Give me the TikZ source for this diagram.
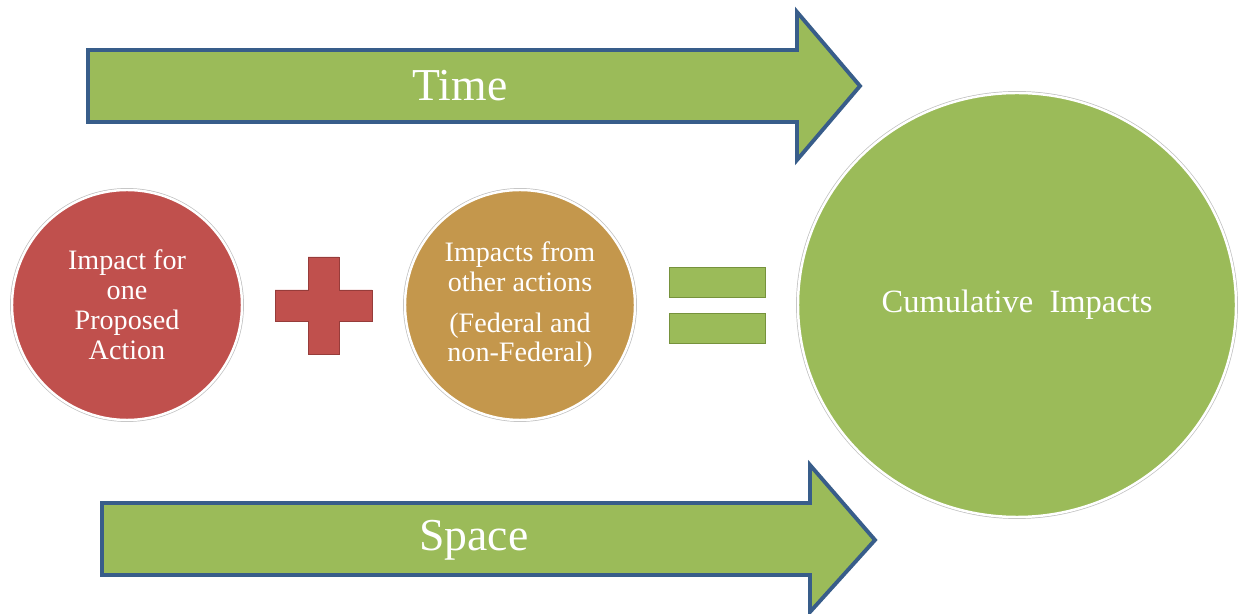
\documentclass[tikz,border=0pt]{standalone}
\usepackage{fontspec}
\setmainfont{Liberation Serif}
\usetikzlibrary{positioning, shapes.geometric}

\definecolor{leafgreen}{RGB}{155,187,89}
\definecolor{leafdark}{RGB}{118,146,60}
\definecolor{brick}{RGB}{192,80,77}
\definecolor{brickdark}{RGB}{150,60,58}
\definecolor{ochre}{RGB}{196,151,76}
\definecolor{arrowblue}{RGB}{56,93,138}

\begin{document}
\begin{tikzpicture}[
         bubble/.style={circle, minimum size=4.6cm, inner sep=0pt, align=center,
            text=white, font=\fontsize{16}{17}\selectfont, draw=white, line width=1.4pt,
            preaction={draw=black!25, line width=2.2pt}},
         bigbubble/.style={bubble, ellipse, minimum width=8.76cm, minimum height=8.48cm,
            font=\fontsize{18.5}{20}\selectfont},
         flowarrow/.style={fill=leafgreen, draw=arrowblue, line width=2.2pt, line join=miter},
         arrowlabel/.style={text=white, font=\fontsize{26}{28}\selectfont},
         plusmark/.style={fill=brick, draw=brickdark, line width=0.4pt},
         eqbar/.style={rectangle, fill=leafgreen, draw=leafdark, line width=0.4pt,
            minimum width=1.92cm, minimum height=0.6cm, inner sep=0pt}
      ]
         \useasboundingbox (0,0) rectangle (24.76,-12.28);

         % Time and space arrows
         \draw[flowarrow] (1.76,-1.0) -- (15.94,-1.0) -- (15.94,-0.24) -- (17.2,-1.72)
            -- (15.94,-3.2) -- (15.94,-2.44) -- (1.76,-2.44) -- cycle;
         \node[arrowlabel] (time) at (9.2,-1.72) {Time};

         \draw[flowarrow] (2.04,-10.06) -- (16.2,-10.06) -- (16.2,-9.3) -- (17.5,-10.8)
            -- (16.2,-12.24) -- (16.2,-11.5) -- (2.04,-11.5) -- cycle;
         \node[arrowlabel] (space) at (9.48,-10.8) {Space};

         % Impact circles
         \node[bubble, fill=brick] (proposed) at (2.54,-6.1)
            {Impact for\\one\\Proposed\\Action};
         \node[bubble, fill=ochre] (others) at (10.4,-6.1)
            {Impacts from\\other actions\\[6pt](Federal and\\non-Federal)};
         \node[bigbubble, fill=leafgreen] (cumulative) at (20.34,-6.1)
            {Cumulative\ \ Impacts};

         % Plus and equals signs
         \coordinate (plus) at (6.47,-6.11);
         \draw[plusmark, shift={(plus)}] (-0.97,0.31) -- (-0.31,0.31) -- (-0.31,0.97)
            -- (0.31,0.97) -- (0.31,0.31) -- (0.97,0.31) -- (0.97,-0.31) -- (0.31,-0.31)
            -- (0.31,-0.97) -- (-0.31,-0.97) -- (-0.31,-0.31) -- (-0.97,-0.31) -- cycle;

         \node[eqbar] (eqtop) at (14.34,-5.64) {};
         \node[eqbar, below=0.32cm of eqtop] (eqbot) {};
      \end{tikzpicture}
\end{document}
